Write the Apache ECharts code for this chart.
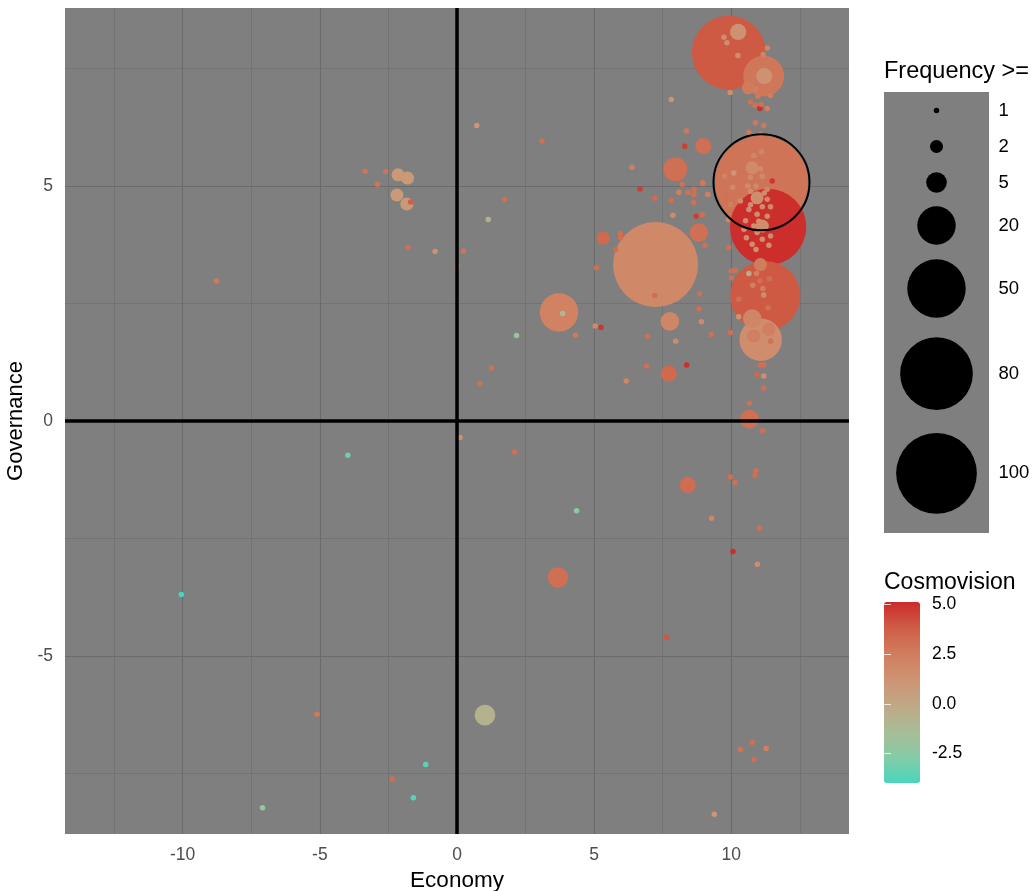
<!DOCTYPE html>
<html><head><meta charset="utf-8">
<script src="https://cdn.jsdelivr.net/npm/echarts@6/dist/echarts.min.js"></script>
<style>html,body{margin:0;padding:0;background:#fff}#c{width:1035px;height:891px}</style>
</head><body><div id="c"></div>
<script>
// ---------------- data ----------------
const economy = [11.10,7.24,11.34,9.91,11.24,11.07,11.18,3.72,7.96,3.68,1.02,7.76,10.66,8.82,10.76,7.72,8.41,8.98,10.25,11.20,5.33,-2.15,-1.80,-2.19,-1.83,11.37,10.82,11.06,10.62,
9.73,9.84,10.24,11.31,11.16,9.96,10.88,10.97,11.43,10.70,10.86,11.04,11.31,11.09,7.81,10.88,11.18,10.64,11.06,8.36,8.30,6.38,6.67,7.21,7.81,8.21,8.09,8.42,8.64,8.64,8.63,8.96,9.14,7.87,8.72,8.94,5.96,5.96,5.78,9.04,9.91,
0.72,3.10,1.74,1.14,0.23,0.01,-3.35,-2.60,-2.90,-1.69,-1.79,-0.80,-8.77,5.09,7.21,7.97,6.94,6.92,8.37,5.04,5.25,4.32,2.17,1.26,3.85,8.84,8.82,8.91,9.27,9.97,6.17,
10.00,10.15,10.00,10.64,10.92,11.04,11.39,10.78,11.15,11.18,11.34,10.27,11.43,10.27,11.06,11.18,10.94,11.18,11.18,10.66,11.14,9.97,10.14,10.90,10.86,9.28,11.02,10.06,10.95,
0.11,2.10,4.36,7.64,10.76,10.33,11.27,10.83,9.38,-1.14,-1.59,-2.36,-10.05,-5.10,-7.09,-3.98,0.83,
10.82,11.10,10.76,11.06,10.09,9.75,10.70,11.13,11.49,8.96,10.05,10.70,11.31,9.85,10.33,10.94,11.31,9.97,11.13,11.43,10.64,10.94,9.89,10.52,11.31,10.82,11.13,10.46,10.94,11.43,10.76,11.13,11.37,10.55,10.90,11.00,10.70,11.20,10.90,10.60];
const governance = [5.08,3.33,4.13,7.84,2.66,1.73,7.34,2.31,5.36,-3.33,-6.26,2.12,0.04,4.01,2.18,1.01,-1.36,5.85,8.28,7.34,3.89,5.24,5.17,4.81,4.62,1.95,1.81,3.33,7.09,
8.17,8.05,7.78,7.94,7.80,6.99,7.06,6.91,6.93,6.79,6.72,6.65,6.65,6.74,6.84,6.35,6.29,6.14,6.10,6.17,5.85,5.40,4.94,4.74,4.70,5.04,4.87,4.87,4.93,4.82,4.65,5.06,4.82,4.38,4.36,4.39,3.99,3.90,3.65,3.74,3.69,
6.29,5.96,4.72,4.29,3.62,3.30,5.31,5.31,5.04,4.66,3.70,3.61,2.98,3.26,2.67,1.70,1.80,1.17,1.19,2.02,1.99,1.83,1.82,1.13,2.29,2.71,2.39,2.11,1.84,1.88,0.85,
3.19,3.21,3.05,3.14,3.14,2.98,3.03,2.89,2.82,2.68,2.41,2.22,1.70,2.59,1.19,1.19,0.99,0.96,0.70,0.38,-0.21,-1.19,-1.31,-1.06,-1.16,-2.07,-2.28,-2.78,-3.05,
-0.35,-0.66,-1.91,-4.60,-6.84,-6.99,-6.97,-7.21,-8.37,-7.31,-8.02,-7.62,-3.69,-6.24,-8.23,-0.73,0.80,
5.65,5.73,5.39,5.37,5.28,5.21,5.18,5.21,5.11,5.07,4.97,4.89,4.93,4.79,4.68,4.75,4.72,4.61,4.56,4.56,4.50,4.40,4.29,4.26,4.36,4.15,4.15,4.08,4.01,3.94,3.76,3.87,3.74,3.90,3.65,4.25,4.60,4.85,5.00,5.00];
const frequency = [135,112,89,83,74,25,23,20,7,5,5,4,4,4,4,3,3,3,3,3,2,2,2,2,2,2,2,2,2,
1,1,1,1,1,1,1,1,1,1,1,1,1,1,1,1,1,1,1,1,1,1,1,1,1,1,1,1,1,1,1,1,1,1,1,1,1,1,1,1,1,
1,1,1,1,1,1,1,1,1,1,1,1,1,1,1,1,1,1,1,1,1,1,1,1,1,1,1,1,1,1,1,
1,1,1,1,1,1,1,1,1,1,1,1,1,1,1,1,1,1,1,1,1,1,1,1,1,1,1,1,1,
1,1,1,1,1,1,1,1,1,1,1,1,1,1,1,1,1,
1,1,2,1,1,1,1,1,1,1,1,1,1,1,1,2,1,1,1,1,1,1,1,1,1,1,2,1,1,1,1,1,1,1,1,1,1,1,1,1];
const cosmovision = [2.9,1.9,5.0,3.9,3.9,1.6,2.8,2.2,3.1,3.1,-0.7,2.0,3.1,3.1,2.0,3.3,3.2,3.1,1.3,1.3,3.3,0.9,0.9,0.9,0.9,2.4,2.4,2.5,2.6,
1.6,1.6,1.6,2.0,2.0,1.6,2.4,2.7,2.4,3.0,3.0,5.0,2.4,3.0,1.3,2.7,2.7,2.7,2.4,2.7,4.6,2.4,4.6,3.2,3.2,3.0,2.4,3.0,3.0,3.0,3.0,2.4,2.4,1.8,4.6,3.1,3.1,3.1,3.2,3.1,3.1,
1.0,3.1,3.1,-0.6,2.9,3.0,2.9,2.9,2.9,3.8,3.1,1.3,2.7,3.1,3.1,1.8,3.1,3.1,5.0,1.8,4.8,2.7,-1.8,3.1,-1.0,3.1,3.1,1.8,3.1,3.1,2.0,
3.1,3.1,3.1,-0.3,2.4,3.1,3.1,2.4,2.4,1.6,3.0,1.3,3.0,3.1,3.1,3.1,3.4,1.6,3.1,3.1,3.1,3.1,3.1,3.1,3.1,2.0,3.1,5.0,1.6,
1.3,3.1,-2.4,4.0,3.1,2.9,2.4,3.1,1.0,-3.7,-3.7,3.1,-3.9,2.7,-2.0,-3.2,3.1,
2.0,2.0,1.8,1.8,1.0,2.2,1.8,1.8,4.8,2.7,1.8,1.6,2.0,3.0,1.8,1.6,2.0,2.4,1.6,1.8,1.6,1.6,2.0,1.6,1.8,1.6,1.5,1.6,1.5,1.8,1.5,1.6,1.6,1.6,1.5,1.5,1.6,1.6,1.8,1.8];

const highlightEconomy = [11.10];
const highlightGovernance = [5.08];
const highlightFrequency = [135];

const xTicks = [-10, -5, 0, 5, 10];
const xMinorTicks = [-12.5, -7.5, -2.5, 2.5, 7.5, 12.5];
const yTicks = [-5, 0, 5];
const yMinorTicks = [-7.5, -2.5, 2.5, 7.5];
const xLimits = [-14.29, 14.29];
const yLimits = [-8.79, 8.79];
const sizeBreaks = [1, 2, 5, 20, 50, 80, 100];
const colorTicks = [5, 2.5, 0, -2.5];
const colorLimits = [-3.97, 5.1];
const colorPalette = ['#48D6BC','#86CBA6','#A8BD97','#BFA886','#CE9473','#D07D5E','#CE5E46','#CC2A2A'];

// ---------------- scales ----------------
const FONT = "'Liberation Sans', Arial, sans-serif";
const fMin = Math.min(...frequency), fMax = Math.max(...frequency);
function diam(v) { return 5.5 + 87.5 * Math.sqrt(Math.max(0, v - fMin) / (fMax - fMin)); }

const pts = economy.map((x, i) => [x, governance[i], cosmovision[i], frequency[i]]);
pts.sort((a, b) => b[3] - a[3]);

const hl = highlightEconomy.map((x, i) => [x, highlightGovernance[i], highlightFrequency[i]]);

// size legend layout (key height grows with symbol size)
const keyH = sizeBreaks.map(v => Math.max(36, 1.30 * diam(v)));
let acc = 0.5;
const sizeLegendData = sizeBreaks.map((v, i) => { const c = acc + keyH[i] / 2; acc += keyH[i]; return [0, c, v]; });
const legendBoxH = 441;

function vLines(vals) { return vals.map(v => ({ coords: [[v, yLimits[0]], [v, yLimits[1]]] })); }
function hLines(vals) { return vals.map(v => ({ coords: [[xLimits[0], v], [xLimits[1], v]] })); }

const chart = echarts.init(document.getElementById('c'), null, { renderer: 'canvas' });
chart.setOption({
  animation: false,
  backgroundColor: '#ffffff',
  textStyle: { fontFamily: FONT },
  title: [
    { text: 'Frequency >=', left: 884, top: 60, padding: 0, textStyle: { fontSize: 23.5, fontWeight: 'normal', color: '#000', fontFamily: FONT } },
    { text: 'Cosmovision', left: 884, top: 571, padding: 0, textStyle: { fontSize: 23, fontWeight: 'normal', color: '#000', fontFamily: FONT } }
  ],
  grid: [
    { left: 65, top: 8, width: 784, height: 826, show: true, backgroundColor: '#7F7F7F', borderWidth: 0, containLabel: false, outerBoundsMode: 'none' },
    { left: 884, top: 92, width: 105, height: legendBoxH, show: true, backgroundColor: '#7F7F7F', borderWidth: 0, outerBoundsMode: 'none' },
    { left: 884, top: 602, width: 36, height: 181, show: false, outerBoundsMode: 'none' }
  ],
  xAxis: [
    { type: 'value', gridIndex: 0, min: xLimits[0], max: xLimits[1],
      axisLine: { show: false }, splitLine: { show: false },
      axisTick: { show: true, customValues: xTicks, length: 5, lineStyle: { color: '#333333', width: 1 } },
      axisLabel: { show: true, customValues: xTicks, color: '#4D4D4D', fontSize: 17.5, margin: 12, fontFamily: FONT },
      name: 'Economy', nameLocation: 'middle', nameGap: 33, nameTextStyle: { color: '#000', fontSize: 22.5, fontFamily: FONT } },
    { type: 'value', gridIndex: 1, min: -1, max: 1, show: false },
    { type: 'value', gridIndex: 2, min: 0, max: 1, show: false }
  ],
  yAxis: [
    { type: 'value', gridIndex: 0, min: yLimits[0], max: yLimits[1],
      axisLine: { show: false }, splitLine: { show: false },
      axisTick: { show: true, customValues: yTicks, length: 5, lineStyle: { color: '#333333', width: 1 } },
      axisLabel: { show: true, customValues: yTicks, color: '#4D4D4D', fontSize: 17.5, margin: 12, fontFamily: FONT },
      name: 'Governance', nameLocation: 'middle', nameRotate: 90, nameGap: 31, nameTextStyle: { color: '#000', fontSize: 22, fontFamily: FONT } },
    { type: 'value', gridIndex: 1, min: 0, max: legendBoxH, inverse: true, show: false },
    { type: 'value', gridIndex: 2, min: colorLimits[0], max: colorLimits[1], position: 'right', z: 10,
      axisLine: { show: false }, splitLine: { show: false },
      axisTick: { show: true, inside: true, length: 7, customValues: colorTicks, lineStyle: { color: 'rgba(255,255,255,0.75)', width: 1 } },
      axisLabel: { show: true, inside: false, customValues: colorTicks, margin: 12, color: '#000', fontSize: 17.5, fontFamily: FONT, formatter: v => Number(v).toFixed(1) } },
    { type: 'value', gridIndex: 2, min: colorLimits[0], max: colorLimits[1], position: 'left', z: 10,
      axisLine: { show: false }, splitLine: { show: false },
      axisTick: { show: true, inside: true, length: 7, customValues: colorTicks, lineStyle: { color: 'rgba(255,255,255,0.75)', width: 1 } },
      axisLabel: { show: false } }
  ],
  visualMap: [{
    type: 'continuous', seriesIndex: 0, dimension: 2,
    min: colorLimits[0], max: colorLimits[1],
    inRange: { color: colorPalette },
    orient: 'vertical', left: 884, top: 602, itemWidth: 36, itemHeight: 181,
    calculable: false, padding: 0, hoverLink: false, showLabel: false
  }],
  series: [
    { type: 'scatter', xAxisIndex: 0, yAxisIndex: 0, z: 3, data: pts, silent: true,
      encode: { x: 0, y: 1 },
      symbolSize: v => diam(v[3]),
      itemStyle: { opacity: 1, borderWidth: 0 } },
    { type: 'scatter', xAxisIndex: 0, yAxisIndex: 0, z: 4, data: hl, silent: true,
      symbolSize: v => diam(v[2]) + 3,
      itemStyle: { color: 'rgba(0,0,0,0)', borderColor: '#000', borderWidth: 2, opacity: 1 } },
    { type: 'lines', coordinateSystem: 'cartesian2d', xAxisIndex: 0, yAxisIndex: 0, z: 1, silent: true,
      data: vLines(xMinorTicks).concat(hLines(yMinorTicks)),
      lineStyle: { color: '#6E6E6E', width: 0.7, opacity: 1 } },
    { type: 'lines', coordinateSystem: 'cartesian2d', xAxisIndex: 0, yAxisIndex: 0, z: 1, silent: true,
      data: vLines(xTicks).concat(hLines(yTicks)),
      lineStyle: { color: '#6B6B6B', width: 1.1, opacity: 1 } },
    { type: 'lines', coordinateSystem: 'cartesian2d', xAxisIndex: 0, yAxisIndex: 0, z: 6, silent: true,
      data: vLines([0]).concat(hLines([0])),
      lineStyle: { color: '#000', width: 3.5, opacity: 1 } },
    { type: 'scatter', xAxisIndex: 1, yAxisIndex: 1, z: 3, silent: true, data: sizeLegendData,
      symbolSize: v => diam(v[2]),
      itemStyle: { color: '#000', opacity: 1 },
      label: { show: true, position: 'inside', align: 'left', verticalAlign: 'middle', offset: [62, 0],
               formatter: p => String(p.value[2]), color: '#000', fontSize: 18.5, fontFamily: FONT } }
  ]
});
</script></body></html>
